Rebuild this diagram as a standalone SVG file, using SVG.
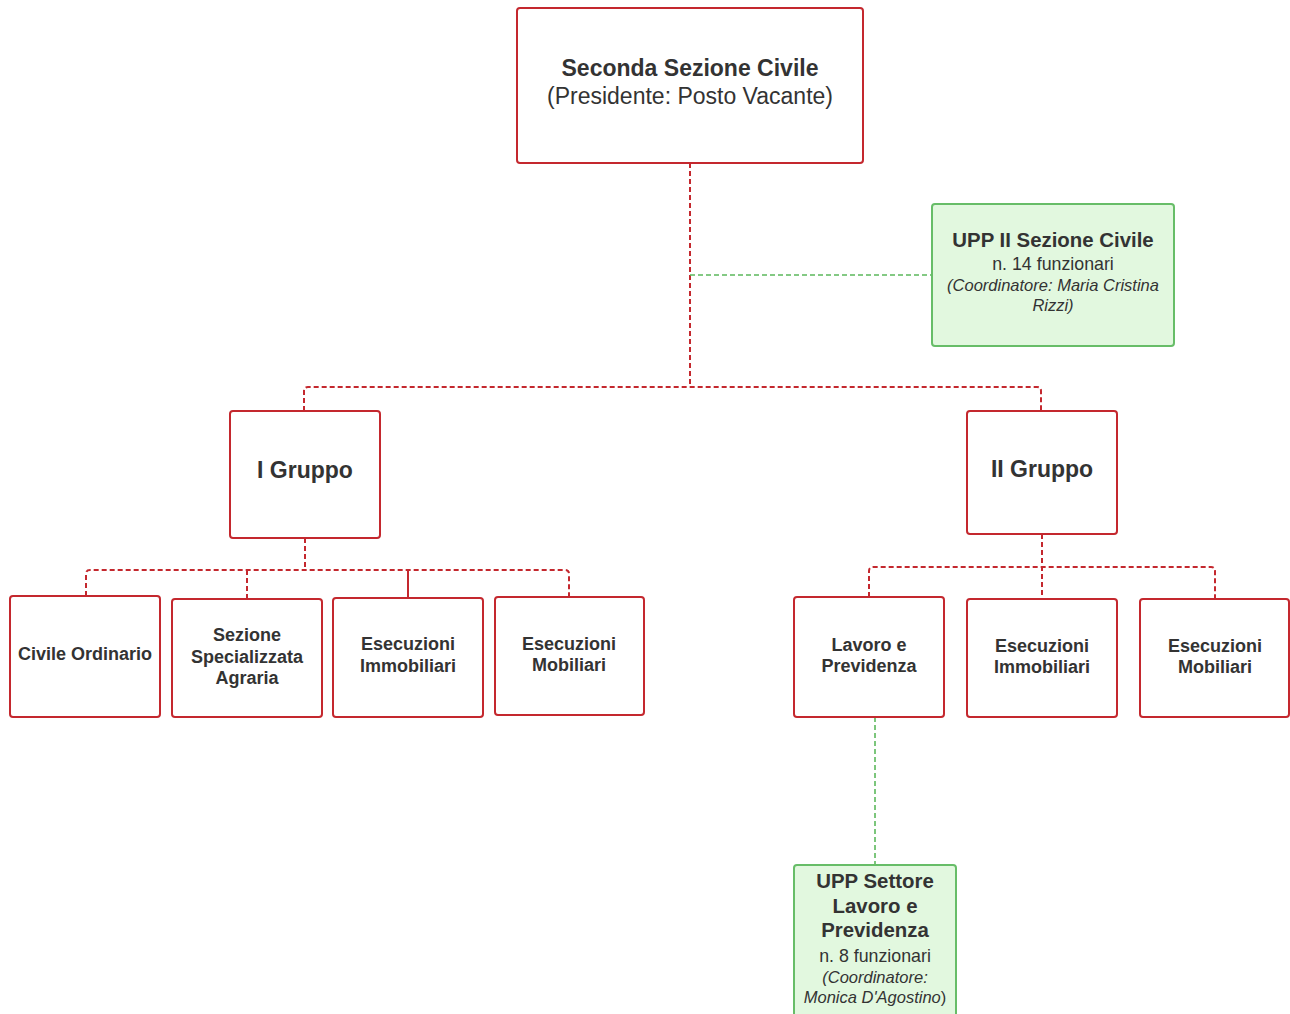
<svg xmlns="http://www.w3.org/2000/svg" width="1290" height="1014" viewBox="0 0 1290 1014">
<style>
.box{fill:#fff;stroke:#c4282e;stroke-width:2}
.gbox{fill:#e2f8df;stroke:#67bd68;stroke-width:2}
.red{fill:none;stroke:#c4282e;stroke-width:2;stroke-dasharray:5 3}
.redsolid{fill:none;stroke:#c4282e;stroke-width:2}
.green{fill:none;stroke:#5cb85c;stroke-width:1.6;stroke-dasharray:5 3}
text{font-family:"Liberation Sans",Arial,sans-serif;fill:#333;text-anchor:middle}
.t1{font-size:23px;font-weight:bold}
.t2{font-size:23px}
.tb{font-size:18px;font-weight:bold}
.tg{font-size:20.4px;font-weight:bold}
.tn{font-size:17.8px}
.ti{font-size:16.5px;font-style:italic}
</style>
<g id="connectors">
<path class="red" d="M690 163 V387"/>
<path class="green" d="M690 275 H932"/>
<path class="red" d="M304 411 V391 Q304 387 308 387 H1037 Q1041 387 1041 391 V411"/>
<path class="red" d="M305 538 V570"/>
<path class="red" d="M86 596 V574 Q86 570 90 570 H565 Q569 570 569 574 V597"/>
<path class="red" d="M247 570 V599"/>
<path class="redsolid" d="M408 570 V598"/>
<path class="red" d="M1042 534 V599"/>
<path class="red" d="M869 597 V571 Q869 567 873 567 H1211 Q1215 567 1215 571 V599"/>
<path class="green" d="M875 717 V865"/>
</g>
<g id="n-top">
<rect class="box" x="517" y="8" width="346" height="155" rx="3"/>
<text class="t1" x="690" y="76">Seconda Sezione Civile</text>
<text class="t2" x="690" y="104">(Presidente: Posto Vacante)</text>
</g>
<g id="n-upp2">
<rect class="gbox" x="932" y="204" width="242" height="142" rx="3"/>
<text class="tg" x="1053" y="247">UPP II Sezione Civile</text>
<text class="tn" x="1053" y="270">n. 14 funzionari</text>
<text class="ti" x="1053" y="291">(Coordinatore: Maria Cristina</text>
<text class="ti" x="1053" y="311">Rizzi)</text>
</g>
<g id="n-g1">
<rect class="box" x="230" y="411" width="150" height="127" rx="3"/>
<text class="t1" x="305" y="478">I Gruppo</text>
</g>
<g id="n-g2">
<rect class="box" x="967" y="411" width="150" height="123" rx="3"/>
<text class="t1" x="1042" y="477">II Gruppo</text>
</g>
<g id="n-civ">
<rect class="box" x="10" y="596" width="150" height="121" rx="3"/>
<text class="tb" x="85" y="660">Civile Ordinario</text>
</g>
<g id="n-agr">
<rect class="box" x="172" y="599" width="150" height="118" rx="3"/>
<text class="tb" x="247" y="641">Sezione</text>
<text class="tb" x="247" y="663">Specializzata</text>
<text class="tb" x="247" y="684">Agraria</text>
</g>
<g id="n-imm1">
<rect class="box" x="333" y="598" width="150" height="119" rx="3"/>
<text class="tb" x="408" y="650">Esecuzioni</text>
<text class="tb" x="408" y="672">Immobiliari</text>
</g>
<g id="n-mob1">
<rect class="box" x="495" y="597" width="149" height="118" rx="3"/>
<text class="tb" x="569" y="650">Esecuzioni</text>
<text class="tb" x="569" y="671">Mobiliari</text>
</g>
<g id="n-lav">
<rect class="box" x="794" y="597" width="150" height="120" rx="3"/>
<text class="tb" x="869" y="651">Lavoro e</text>
<text class="tb" x="869" y="672">Previdenza</text>
</g>
<g id="n-imm2">
<rect class="box" x="967" y="599" width="150" height="118" rx="3"/>
<text class="tb" x="1042" y="652">Esecuzioni</text>
<text class="tb" x="1042" y="673">Immobiliari</text>
</g>
<g id="n-mob2">
<rect class="box" x="1140" y="599" width="149" height="118" rx="3"/>
<text class="tb" x="1215" y="652">Esecuzioni</text>
<text class="tb" x="1215" y="673">Mobiliari</text>
</g>
<g id="n-upplav">
<rect class="gbox" x="794" y="865" width="162" height="160" rx="3"/>
<text class="tg" x="875" y="888">UPP Settore</text>
<text class="tg" x="875" y="913">Lavoro e</text>
<text class="tg" x="875" y="937">Previdenza</text>
<text class="tn" x="875" y="962">n. 8 funzionari</text>
<text class="ti" x="875" y="983">(Coordinatore:</text>
<text class="ti" x="875" y="1003">Monica D'Agostino<tspan font-style="normal">)</tspan></text>
</g>
</svg>
